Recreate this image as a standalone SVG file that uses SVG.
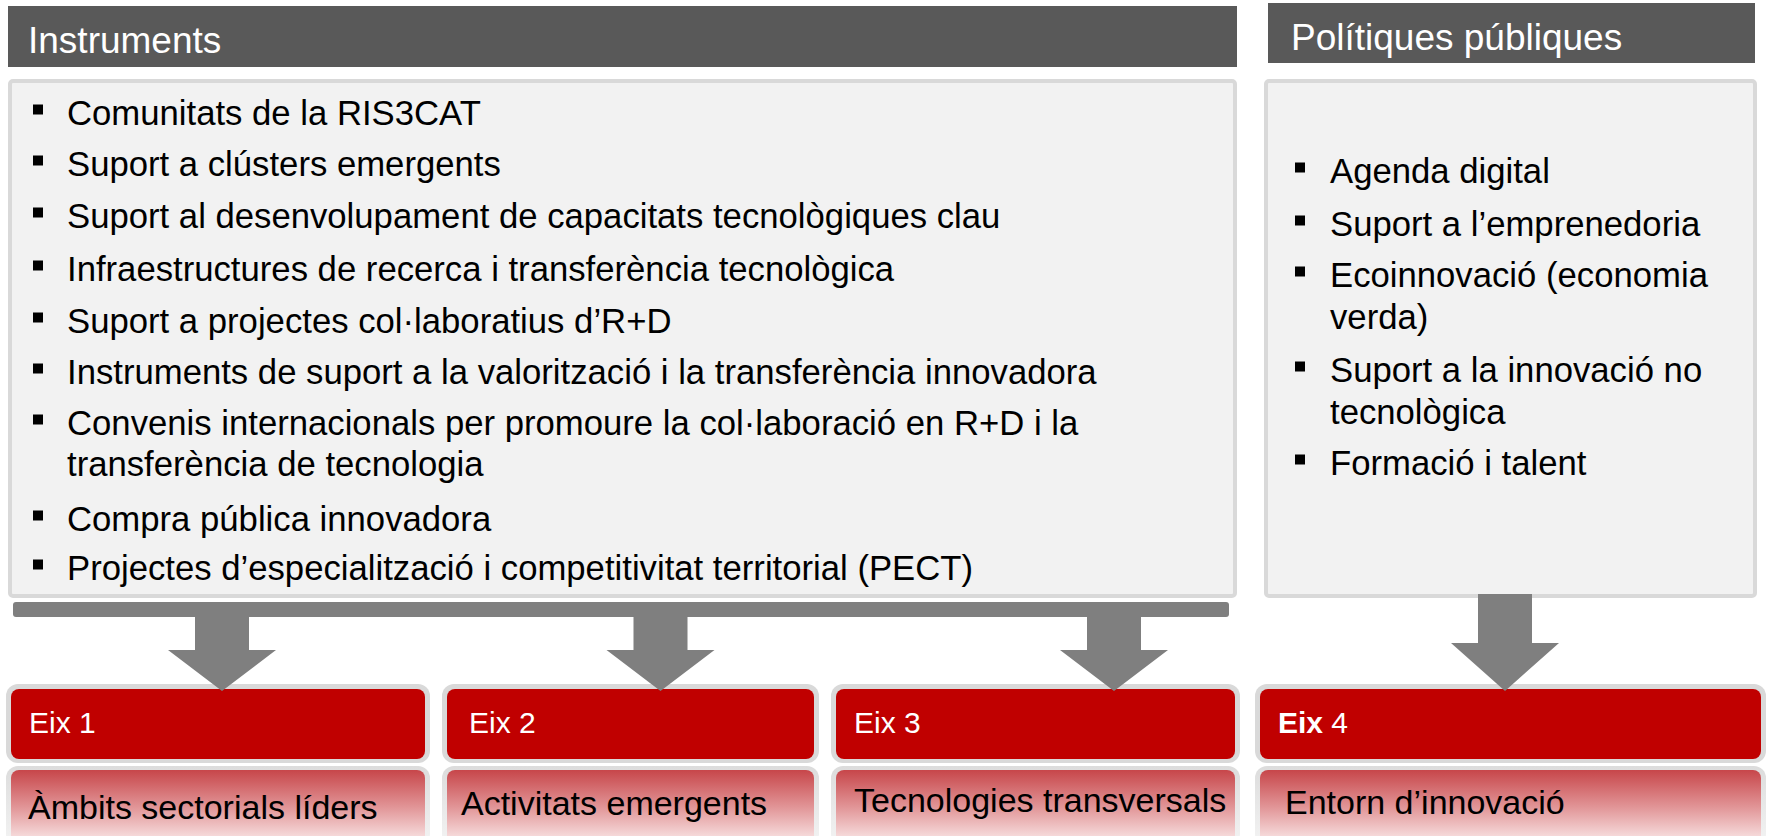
<svg xmlns="http://www.w3.org/2000/svg" width="1767" height="836" viewBox="0 0 1767 836">
<defs>
<linearGradient id="refl" x1="0" y1="0" x2="0" y2="1">
<stop offset="0" stop-color="#c7464a"/>
<stop offset="0.5" stop-color="#e29799"/>
<stop offset="1" stop-color="#fcf0f0"/>
</linearGradient>
<linearGradient id="reflEdge" x1="0" y1="0" x2="0" y2="1">
<stop offset="0" stop-color="#dcdcdc"/>
<stop offset="1" stop-color="#f4f4f4"/>
</linearGradient>
</defs>
<style>
.hdr{fill:#595959}
.hdrt{fill:#ffffff;font-family:"Liberation Sans",Arial,sans-serif;font-size:37px}
.box{fill:#f2f2f2;stroke:#d9d9d9;stroke-width:4}
.item{fill:#000000;font-family:"Liberation Sans",Arial,sans-serif;font-size:34.7px}
.bul{fill:#000000}
.redo{fill:#d9d9d9}
.red{fill:#c00000}
.eixt{fill:#ffffff;font-family:"Liberation Sans",Arial,sans-serif;font-size:30px}
.refo{fill:url(#reflEdge)}
.ref{fill:url(#refl)}
.reft{fill:#000000;font-family:"Liberation Sans",Arial,sans-serif;font-size:34px}
.conn{fill:#7f7f7f}
</style>
<rect width="1767" height="836" fill="#ffffff"/>

<g id="header-instruments">
<rect class="hdr" x="8" y="6" width="1229" height="61"/>
<text class="hdrt" x="28" y="53">Instruments</text>
</g>

<g id="header-politiques">
<rect class="hdr" x="1268" y="3" width="487" height="60"/>
<text class="hdrt" x="1291" y="50">Polítiques públiques</text>
</g>

<g id="box-instruments">
<rect class="box" x="10" y="81" width="1225" height="515" rx="3"/>
<rect class="bul" x="33" y="104.5" width="10" height="10"/>
<text class="item" x="67" y="125">Comunitats de la RIS3CAT</text>
<rect class="bul" x="33" y="155.5" width="10" height="10"/>
<text class="item" x="67" y="176">Suport a clústers emergents</text>
<rect class="bul" x="33" y="207.5" width="10" height="10"/>
<text class="item" x="67" y="228">Suport al desenvolupament de capacitats tecnològiques clau</text>
<rect class="bul" x="33" y="260.5" width="10" height="10"/>
<text class="item" x="67" y="281">Infraestructures de recerca i transferència tecnològica</text>
<rect class="bul" x="33" y="312.5" width="10" height="10"/>
<text class="item" x="67" y="333">Suport a projectes col·laboratius d’R+D</text>
<rect class="bul" x="33" y="363.5" width="10" height="10"/>
<text class="item" x="67" y="384">Instruments de suport a la valorització i la transferència innovadora</text>
<rect class="bul" x="33" y="414.5" width="10" height="10"/>
<text class="item" x="67" y="435">Convenis internacionals per promoure la col·laboració en R+D i la</text>
<text class="item" x="67" y="476">transferència de tecnologia</text>
<rect class="bul" x="33" y="510.5" width="10" height="10"/>
<text class="item" x="67" y="531">Compra pública innovadora</text>
<rect class="bul" x="33" y="559.5" width="10" height="10"/>
<text class="item" x="67" y="580">Projectes d’especialització i competitivitat territorial (PECT)</text>
</g>

<g id="box-politiques">
<rect class="box" x="1266" y="81" width="489" height="515" rx="3"/>
<rect class="bul" x="1295" y="162.5" width="10" height="10"/>
<text class="item" x="1330" y="183">Agenda digital</text>
<rect class="bul" x="1295" y="215.5" width="10" height="10"/>
<text class="item" x="1330" y="236">Suport a l’emprenedoria</text>
<rect class="bul" x="1295" y="266.5" width="10" height="10"/>
<text class="item" x="1330" y="287">Ecoinnovació (economia</text>
<text class="item" x="1330" y="329">verda)</text>
<rect class="bul" x="1295" y="361.5" width="10" height="10"/>
<text class="item" x="1330" y="382">Suport a la innovació no</text>
<text class="item" x="1330" y="424">tecnològica</text>
<rect class="bul" x="1295" y="454.5" width="10" height="10"/>
<text class="item" x="1330" y="475">Formació i talent</text>
</g>

<g id="eix1">
<rect class="redo" x="6" y="684" width="424" height="79" rx="12"/>
<rect class="red" x="11" y="689" width="414" height="70" rx="8"/>
<text class="eixt" x="29" y="733">Eix 1</text>
<rect class="refo" x="6" y="766" width="424" height="80" rx="12"/>
<rect class="ref" x="11" y="770" width="414" height="76" rx="8"/>
<text class="reft" x="28" y="819">Àmbits sectorials líders</text>
</g>

<g id="eix2">
<rect class="redo" x="442" y="684" width="377" height="79" rx="12"/>
<rect class="red" x="447" y="689" width="367" height="70" rx="8"/>
<text class="eixt" x="469" y="733">Eix 2</text>
<rect class="refo" x="442" y="766" width="377" height="80" rx="12"/>
<rect class="ref" x="447" y="770" width="367" height="76" rx="8"/>
<text class="reft" x="461" y="815">Activitats emergents</text>
</g>

<g id="eix3">
<rect class="redo" x="831" y="684" width="409" height="79" rx="12"/>
<rect class="red" x="836" y="689" width="399" height="70" rx="8"/>
<text class="eixt" x="854" y="733">Eix 3</text>
<rect class="refo" x="831" y="766" width="409" height="80" rx="12"/>
<rect class="ref" x="836" y="770" width="399" height="76" rx="8"/>
<text class="reft" x="854" y="812">Tecnologies transversals</text>
</g>

<g id="eix4">
<rect class="redo" x="1255" y="684" width="511" height="79" rx="12"/>
<rect class="red" x="1260" y="689" width="501" height="70" rx="8"/>
<text class="eixt" x="1278" y="733"><tspan font-weight="bold">Eix</tspan> 4</text>
<rect class="refo" x="1255" y="766" width="511" height="80" rx="12"/>
<rect class="ref" x="1260" y="770" width="501" height="76" rx="8"/>
<text class="reft" x="1285" y="814">Entorn d’innovació</text>
</g>

<g id="connectors">
<rect class="conn" x="13" y="602" width="1216" height="15" rx="3"/>
<polygon class="conn" points="195,615 249,615 249,650 276,650 222,691 168,650 195,650"/>
<polygon class="conn" points="633.5,615 687.5,615 687.5,650 714.5,650 660.5,691 606.5,650 633.5,650"/>
<polygon class="conn" points="1087,615 1141,615 1141,650 1168,650 1114,691 1060,650 1087,650"/>
<polygon class="conn" points="1478,594 1532,594 1532,643 1559,643 1505,691 1451,643 1478,643"/>
</g>
</svg>
